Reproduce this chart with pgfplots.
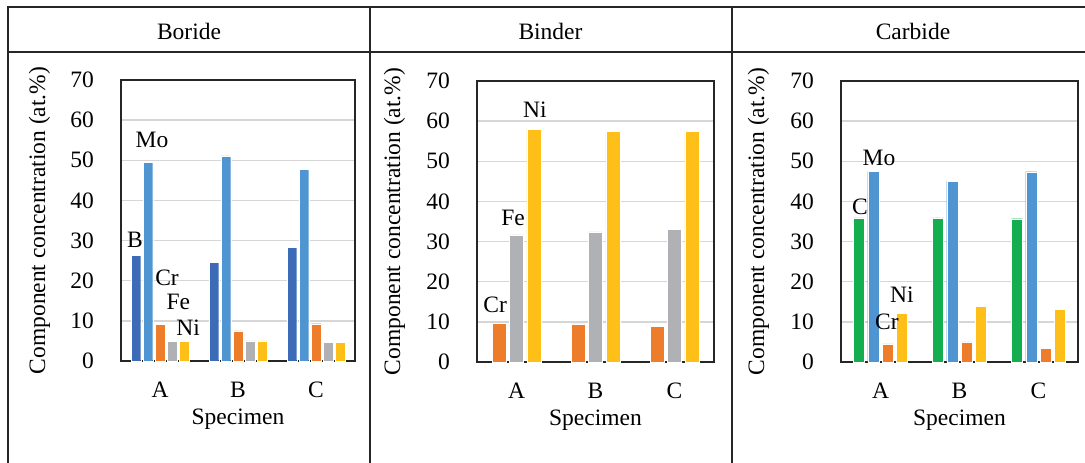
\documentclass[border=0pt]{standalone}
\usepackage{fontspec}
\setmainfont{Liberation Serif}
\usepackage{pgfplots}
\pgfplotsset{compat=1.18}

\definecolor{cB}{HTML}{3C6BB7}
\definecolor{cMo}{HTML}{4E95D1}
\definecolor{cCr}{HTML}{EE7D2B}
\definecolor{cFe}{HTML}{B0B1B4}
\definecolor{cNi}{HTML}{FDBF18}
\definecolor{cC}{HTML}{14AE50}
\definecolor{frame}{HTML}{262626}
\definecolor{gridc}{HTML}{D6D6D6}

\pgfplotsset{
  panel/.style={
    scale only axis,
    anchor=south west,
    height=281pt,
    xmin=-0.5, xmax=2.5,
    ymin=0, ymax=70,
    xtick={0,1,2},
    xticklabels={A,B,C},
    ytick={0,10,...,70},
    major tick length=0pt,
    ymajorgrids,
    grid style={gridc, line width=1.5pt},
    axis line style={frame, line width=1.6pt},
    /pgf/number format/assume math mode=true,
    yticklabel style={anchor=east, inner sep=0pt, xshift=-27pt},
    xticklabel style={anchor=center, inner sep=0pt, yshift=-29pt},
    ylabel={Component concentration (at.\%)},
    xlabel={Specimen},
    ylabel style={at={(axis description cs:-0.348,0.5)}, rotate=0, anchor=center},
    xlabel style={at={(axis description cs:0.5,-0.206)}, anchor=center},
    clip=false,
  },
  bars/.style={ybar, draw=white, line width=0.25pt},
}

\begin{document}
\fontsize{23.5}{28}\selectfont
\begin{tikzpicture}
\path[use as bounding box] (0pt,0pt) rectangle (1085pt,-463pt);

% table frame
\draw[frame, line width=2pt] (1085pt,-7pt) -- (7.5pt,-7pt) -- (7.5pt,-463pt);
\draw[frame, line width=2pt] (7.5pt,-52pt) -- (1085pt,-52pt);
\draw[frame, line width=2pt] (370pt,-7pt) -- (370pt,-463pt);
\draw[frame, line width=2pt] (731.5pt,-7pt) -- (731.5pt,-463pt);

\node at (189pt,-31pt) {Boride};
\node at (550.5pt,-31pt) {Binder};
\node at (913pt,-31pt) {Carbide};

% Boride
\begin{axis}[panel, at={(121pt,-361pt)}, width=234pt]
\addplot[bars, fill=cB, bar width=0.122, bar shift=-0.308] coordinates {(0,26.3) (1,24.6) (2,28.3)};
\addplot[bars, fill=cMo, bar width=0.122, bar shift=-0.154] coordinates {(0,49.5) (1,51.1) (2,47.8)};
\addplot[bars, fill=cCr, bar width=0.122, bar shift=0] coordinates {(0,9.1) (1,7.5) (2,9.3)};
\addplot[bars, fill=cFe, bar width=0.122, bar shift=0.154] coordinates {(0,4.9) (1,5.0) (2,4.6)};
\addplot[bars, fill=cNi, bar width=0.122, bar shift=0.308] coordinates {(0,4.9) (1,5.0) (2,4.6)};
\node at (axis cs:-0.103,55.1) {Mo};
\node at (axis cs:-0.32,30.3) {B};
\node at (axis cs:0.09,20.8) {Cr};
\node at (axis cs:0.236,14.6) {Fe};
\node at (axis cs:0.36,8.3) {Ni};
\end{axis}

% Binder
\begin{axis}[panel, at={(477pt,-362pt)}, width=237pt]
\addplot[bars, fill=cCr, bar width=0.175, bar shift=-0.22] coordinates {(0,9.7) (1,9.5) (2,8.9)};
\addplot[bars, fill=cFe, bar width=0.175, bar shift=0] coordinates {(0,31.7) (1,32.4) (2,33.1)};
\addplot[bars, fill=cNi, bar width=0.175, bar shift=0.22] coordinates {(0,58.0) (1,57.5) (2,57.5)};
\node at (axis cs:0.234,62.8) {Ni};
\node at (axis cs:-0.044,35.9) {Fe};
\node at (axis cs:-0.27,14.2) {Cr};
\end{axis}

% Carbide
\begin{axis}[panel, at={(841pt,-362pt)}, width=237pt]
\addplot[bars, fill=cC, bar width=0.141, bar shift=-0.272] coordinates {(0,35.9) (1,35.9) (2,35.7)};
\addplot[bars, fill=cMo, bar width=0.141, bar shift=-0.091] coordinates {(0,47.5) (1,45.0) (2,47.4)};
\addplot[bars, fill=cCr, bar width=0.141, bar shift=0.091] coordinates {(0,4.5) (1,5.0) (2,3.4)};
\addplot[bars, fill=cNi, bar width=0.141, bar shift=0.272] coordinates {(0,12.2) (1,13.9) (2,13.1)};
\node at (axis cs:-0.019,50.8) {Mo};
\node at (axis cs:-0.26,38.6) {C};
\node at (axis cs:0.27,16.7) {Ni};
\node at (axis cs:0.08,10.0) {Cr};
\end{axis}
\end{tikzpicture}
\end{document}
